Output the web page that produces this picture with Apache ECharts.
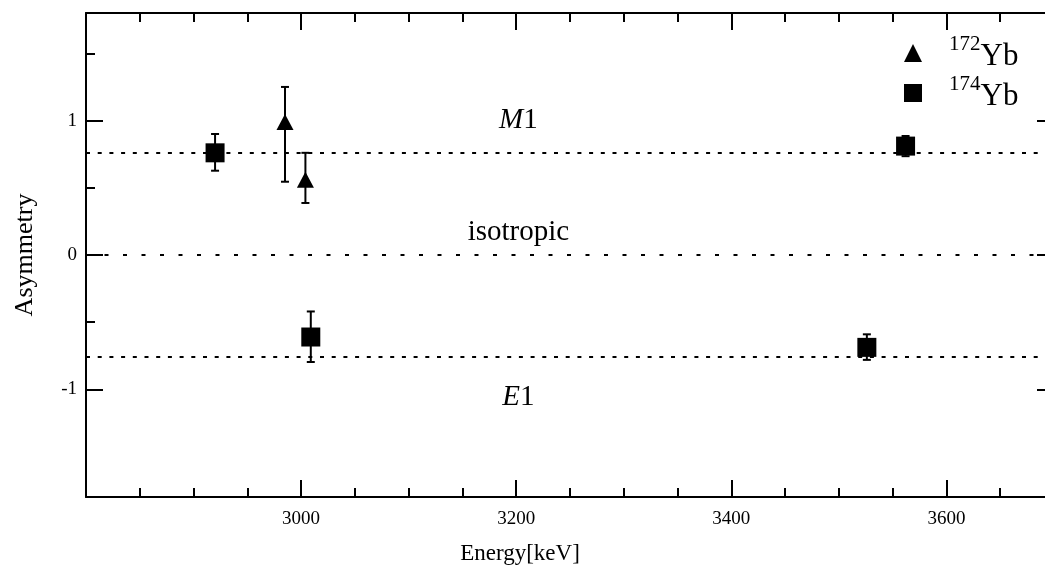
<!DOCTYPE html>
<html>
<head>
<meta charset="utf-8">
<script src="https://cdn.jsdelivr.net/npm/echarts@6/dist/echarts.min.js"></script>
<style>
  html, body { margin: 0; padding: 0; background: #fff; }
  #chart { width: 1045px; height: 571px; }
</style>
</head>
<body>
<div id="chart"></div>
<script>
// 172Yb (triangles)
const yb172Energy = [2985, 3004]
const yb172Asym = [0.99, 0.56]
const yb172Low = [0.545, 0.387]
const yb172High = [1.25, 0.76]

// 174Yb (squares)
const yb174Energy = [2920, 3009, 3526, 3562]
const yb174Asym = [0.76, -0.61, -0.687, 0.81]
const yb174Low = [0.627, -0.796, -0.78, 0.735]
const yb174High = [0.90, -0.42, -0.59, 0.885]

// reference levels: M1, isotropic, E1
const levels = [0.76, 0, -0.76]

// annotations [energy, asymmetry, text]
const notes = [
  [3202, 1.0, '{i|M}1'],
  [3202, 0.17, 'isotropic'],
  [3202, -1.06, '{i|E}1']
]

const xMajor = [3000, 3200, 3400, 3600]
const xMinor = [2850, 2900, 2950, 3050, 3100, 3150, 3250, 3300, 3350, 3450, 3500, 3550, 3650]
const yMajor = [-1, 0, 1]
const yMinor = [-0.5, 0.5, 1.5]

const FONT = 'Liberation Serif'

function zip(xs, ys) {
  return xs.map((x, i) => [x, ys[i]])
}
function bars(xs, lo, hi) {
  return xs.map((x, i) => [x, lo[i], hi[i]])
}

function errorBar(params, api) {
  const x = api.value(0)
  const lo = api.coord([x, api.value(1)])
  const hi = api.coord([x, api.value(2)])
  const cap = 4
  const style = { stroke: '#000', lineWidth: 2 }
  return {
    type: 'group',
    children: [
      { type: 'line', shape: { x1: lo[0], y1: lo[1], x2: hi[0], y2: hi[1] }, style },
      { type: 'line', shape: { x1: lo[0] - cap, y1: lo[1], x2: lo[0] + cap, y2: lo[1] }, style },
      { type: 'line', shape: { x1: hi[0] - cap, y1: hi[1], x2: hi[0] + cap, y2: hi[1] }, style }
    ]
  }
}

function xAxisOf(position, ticks, len, main) {
  return {
    type: 'value',
    position: position,
    min: 2800,
    max: 3700,
    axisLine: { show: main, onZero: false, lineStyle: { color: '#000', width: 2 } },
    axisTick: { show: true, inside: true, length: len, customValues: ticks, lineStyle: { color: '#000', width: 2 } },
    axisLabel: {
      show: main && position === 'bottom',
      customValues: xMajor,
      formatter: (v) => String(v),
      margin: 13,
      color: '#000',
      fontFamily: FONT,
      fontSize: 19
    },
    splitLine: { show: false },
    name: main && position === 'bottom' ? 'Energy[keV]' : '',
    nameLocation: 'middle',
    nameGap: 45,
    nameTextStyle: { color: '#000', fontFamily: FONT, fontSize: 23, padding: [0, 100, 0, 0] }
  }
}

function yAxisOf(position, ticks, len, main) {
  return {
    type: 'value',
    position: position,
    min: -1.8,
    max: 1.8,
    // the right frame line falls outside the picture
    axisLine: { show: main && position === 'left', onZero: false, lineStyle: { color: '#000', width: 2 } },
    axisTick: { show: true, inside: true, length: len, customValues: ticks, lineStyle: { color: '#000', width: 2 } },
    axisLabel: {
      show: main && position === 'left',
      customValues: yMajor,
      margin: 9,
      color: '#000',
      fontFamily: FONT,
      fontSize: 19
    },
    splitLine: { show: false },
    name: main && position === 'left' ? 'Asymmetry' : '',
    nameLocation: 'middle',
    nameRotate: 90,
    nameGap: 48,
    nameTextStyle: { color: '#000', fontFamily: FONT, fontSize: 26 }
  }
}

const chart = echarts.init(document.getElementById('chart'), null, { renderer: 'canvas' })

const option = {
  animation: false,
  backgroundColor: '#fff',
  // the frame runs past the right edge of the picture, as in the original
  grid: { left: 86, top: 13, width: 968, height: 484, outerBoundsMode: 'none', containLabel: false },
  xAxis: [
    xAxisOf('bottom', xMajor, 17, true),
    xAxisOf('bottom', xMinor, 9, false),
    xAxisOf('top', xMajor, 17, true),
    xAxisOf('top', xMinor, 9, false)
  ],
  yAxis: [
    yAxisOf('left', yMajor, 17, true),
    yAxisOf('left', yMinor, 9, false),
    yAxisOf('right', yMajor, 17, true),
    yAxisOf('right', yMinor, 9, false)
  ],
  legend: {
    orient: 'vertical',
    left: 899,
    top: 29,
    itemGap: 2,
    itemWidth: 18,
    itemHeight: 18,
    data: [
      { name: '172Yb', icon: 'triangle' },
      { name: '174Yb', icon: 'rect' }
    ],
    formatter: (name) => '{gap|}{sup|' + name.slice(0, 3) + '}{yb|' + name.slice(3) + '}',
    textStyle: {
      color: '#000',
      fontFamily: FONT,
      rich: {
        gap: { width: 22 },
        sup: { fontSize: 21, fontFamily: FONT, color: '#000', verticalAlign: 'top', lineHeight: 21 },
        yb: { fontSize: 31, fontFamily: FONT, color: '#000', verticalAlign: 'bottom', lineHeight: 38 }
      }
    }
  },
  series: [
    {
      name: 'levels',
      type: 'line',
      data: [],
      markLine: {
        silent: true,
        symbol: 'none',
        label: { show: false },
        data: levels.map((v) => ({
          yAxis: v,
          lineStyle: { color: '#000', width: 2, type: v === 0 ? [4, 14.5] : [4, 7.7] }
        }))
      }
    },
    {
      name: '172Yb err',
      type: 'custom',
      renderItem: errorBar,
      data: bars(yb172Energy, yb172Low, yb172High),
      z: 3
    },
    {
      name: '174Yb err',
      type: 'custom',
      renderItem: errorBar,
      data: bars(yb174Energy, yb174Low, yb174High),
      z: 3
    },
    {
      name: '172Yb',
      type: 'scatter',
      symbol: 'triangle',
      symbolSize: [17, 16],
      itemStyle: { color: '#000', opacity: 1 },
      data: zip(yb172Energy, yb172Asym),
      z: 5
    },
    {
      name: '174Yb',
      type: 'scatter',
      symbol: 'rect',
      symbolSize: 19,
      itemStyle: { color: '#000', opacity: 1 },
      data: zip(yb174Energy, yb174Asym),
      z: 5
    },
    {
      name: 'notes',
      type: 'scatter',
      symbolSize: 0,
      silent: true,
      itemStyle: { opacity: 1 },
      data: notes.map((n) => [n[0], n[1], n[2]]),
      label: {
        show: true,
        position: 'inside',
        formatter: (p) => p.value[2],
        color: '#000',
        fontFamily: FONT,
        fontSize: 29,
        rich: {
          i: { fontStyle: 'italic', fontSize: 29, fontFamily: FONT, color: '#000' }
        }
      }
    }
  ]
}

chart.setOption(option)
</script>
</body>
</html>
